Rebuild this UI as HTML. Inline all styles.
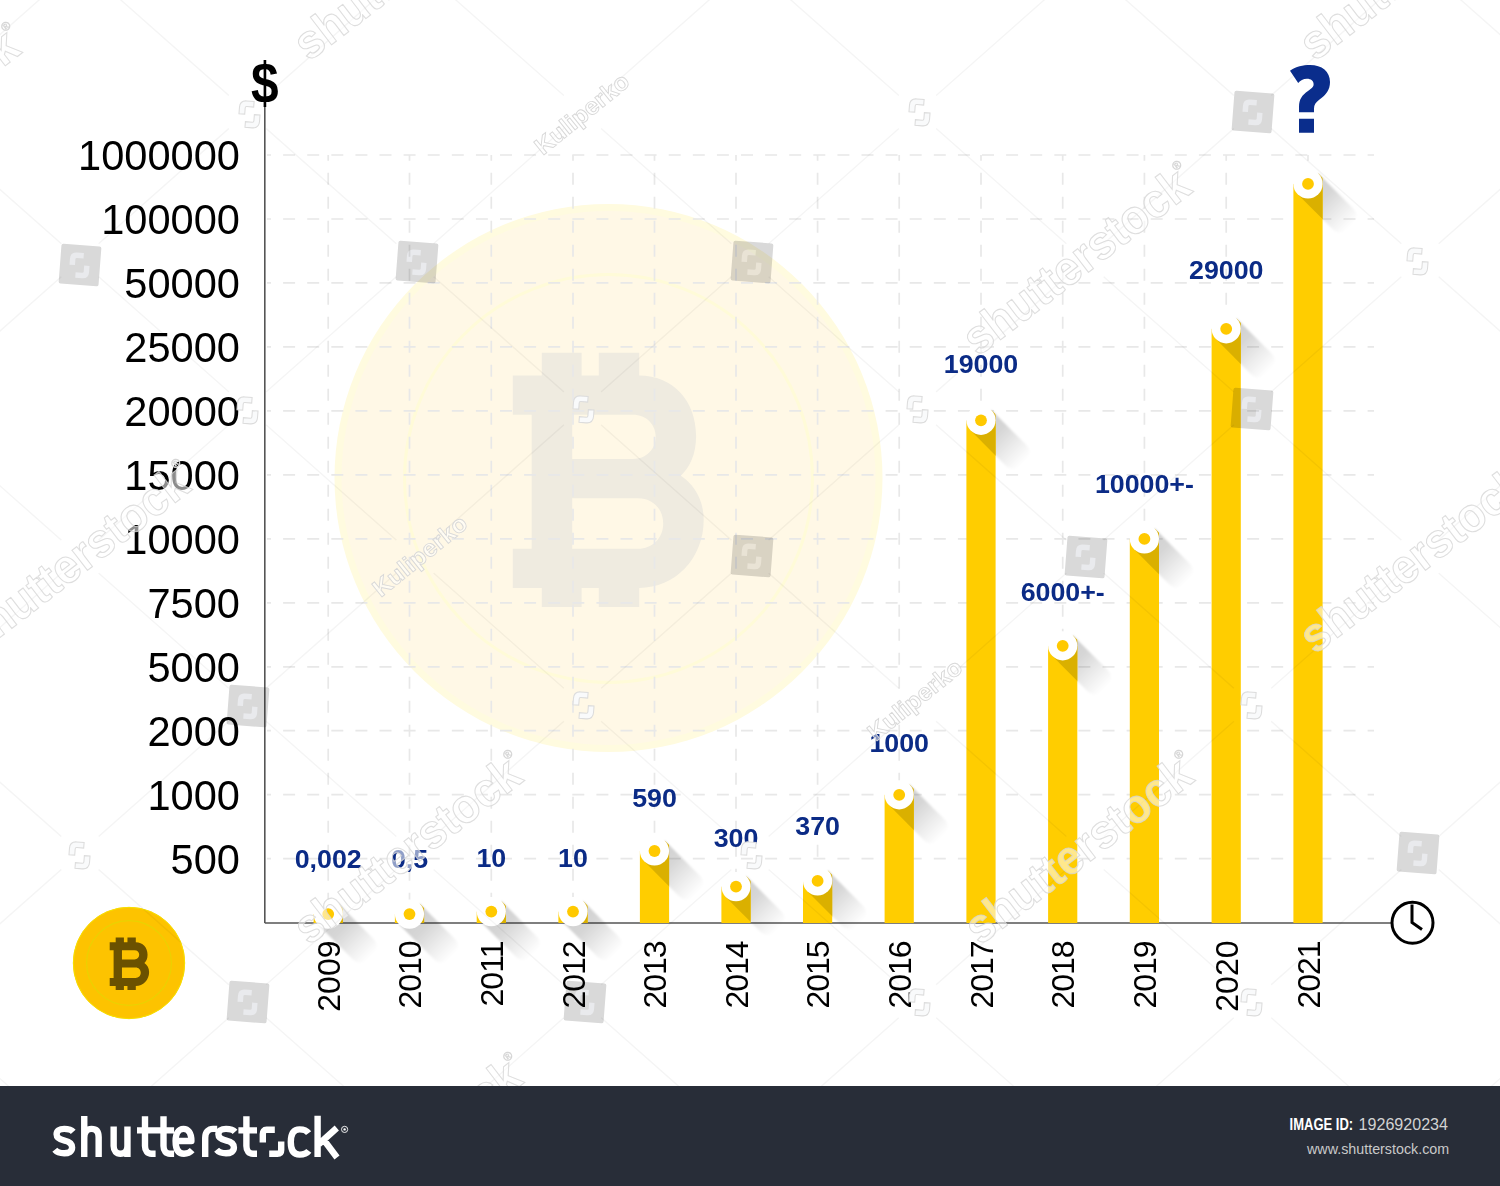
<!DOCTYPE html>
<html><head><meta charset="utf-8"><title>Bitcoin price chart</title>
<style>
html,body{margin:0;padding:0;background:#fff;}
body{width:1500px;height:1186px;overflow:hidden;position:relative;font-family:"Liberation Sans",sans-serif;}
svg{position:absolute;left:0;top:0;display:block;}
</style></head><body>
<svg width="1500" height="1186" viewBox="0 0 1500 1186">
<defs>
<filter id="blur1" x="-50%" y="-50%" width="200%" height="200%"><feGaussianBlur stdDeviation="1.3"/></filter>
<linearGradient id="shg" x1="0" y1="0" x2="1" y2="0">
<stop offset="0" stop-color="#000" stop-opacity="0.19"/>
<stop offset="0.35" stop-color="#000" stop-opacity="0.16"/>
<stop offset="0.7" stop-color="#000" stop-opacity="0.07"/>
<stop offset="1" stop-color="#000" stop-opacity="0"/>
</linearGradient>
<path id="bB" d="M0,22.7 H29 V0 H68.8 V22.7 H86 V0 H126.4 V22.7 C160,22.7 183.3,48 183.3,83 C183.3,102 177,114 168,123 C182,132 190.9,148 190.9,167 C190.9,206 162,235.2 126.4,235.2 V254.2 H86 V235.2 H68.8 V254.2 H29 V235.2 H0 V196 H18.9 V61.9 H0 Z M59.4,61.9 H120 C134,61.9 142.9,72 142.9,84 C142.9,96 134,106.2 120,106.2 H59.4 Z M59.4,145.4 H125 C140,145.4 150.4,156 150.4,170.7 C150.4,185 140,196 125,196 H59.4 Z" fill-rule="evenodd"/>
<path id="ico" d="M-10.5,0.5 V-5.7 Q-10.5,-12.2 -4,-12.2 H3 V-6.8 H-3.6 Q-5,-6.8 -5,-5.4 V0.5 Z M9.6,0.3 V6.5 Q9.6,13 3.1,13 H-3.8 V7.6 H2.8 Q4.2,7.6 4.2,6.2 V0.3 Z"/>
</defs>
<rect x="0" y="0" width="1500" height="1186" fill="#ffffff"/>

<circle cx="608.5" cy="478" r="274" fill="#fffbdf"/>
<circle cx="608.5" cy="478" r="267" fill="#fff8e6"/>
<circle cx="608.5" cy="478.5" r="204" fill="none" stroke="#fffbd8" stroke-width="3"/>
<use href="#bB" transform="translate(512.8,352.8)" fill="#efebe0"/>
<g stroke="#e8e8e8" stroke-width="1.7" stroke-dasharray="12 12.1" stroke-dashoffset="8"><line x1="267" y1="155.0" x2="1374" y2="155.0"/><line x1="267" y1="219.0" x2="1374" y2="219.0"/><line x1="267" y1="282.9" x2="1374" y2="282.9"/><line x1="267" y1="346.9" x2="1374" y2="346.9"/><line x1="267" y1="410.9" x2="1374" y2="410.9"/><line x1="267" y1="474.9" x2="1374" y2="474.9"/><line x1="267" y1="538.8" x2="1374" y2="538.8"/><line x1="267" y1="602.8" x2="1374" y2="602.8"/><line x1="267" y1="666.8" x2="1374" y2="666.8"/><line x1="267" y1="730.7" x2="1374" y2="730.7"/><line x1="267" y1="794.7" x2="1374" y2="794.7"/><line x1="267" y1="858.7" x2="1374" y2="858.7"/></g>
<g stroke="#e8e8e8" stroke-width="1.7" stroke-dasharray="12 12" stroke-dashoffset="6.3"><line x1="328.2" y1="155.0" x2="328.2" y2="923.0"/><line x1="409.5" y1="155.0" x2="409.5" y2="923.0"/><line x1="491.3" y1="155.0" x2="491.3" y2="923.0"/><line x1="573.0" y1="155.0" x2="573.0" y2="923.0"/><line x1="654.5" y1="155.0" x2="654.5" y2="923.0"/><line x1="736.0" y1="155.0" x2="736.0" y2="923.0"/><line x1="817.6" y1="155.0" x2="817.6" y2="923.0"/><line x1="899.2" y1="155.0" x2="899.2" y2="923.0"/><line x1="981.0" y1="155.0" x2="981.0" y2="923.0"/><line x1="1062.7" y1="155.0" x2="1062.7" y2="923.0"/><line x1="1144.4" y1="155.0" x2="1144.4" y2="923.0"/><line x1="1226.2" y1="155.0" x2="1226.2" y2="923.0"/><line x1="1308.0" y1="155.0" x2="1308.0" y2="923.0"/></g>
<line x1="264.8" y1="100" x2="264.8" y2="923.0" stroke="#555" stroke-width="1.6"/>
<line x1="264.8" y1="923.0" x2="1392" y2="923.0" stroke="#555" stroke-width="1.6"/>
<text transform="translate(264.8,103.3) scale(0.87,1)" font-family="Liberation Sans" font-weight="bold" font-size="57" text-anchor="middle" fill="#000">$</text>
<g fill="none" stroke="#000" stroke-width="3"><circle cx="1412.5" cy="922.7" r="20.5"/><polyline points="1412,904.5 1412,922.5 1422,929.5"/></g>
<text x="240" y="170.4" font-family="Liberation Sans" font-size="41.6" text-anchor="end" fill="#000">1000000</text>
<text x="240" y="234.4" font-family="Liberation Sans" font-size="41.6" text-anchor="end" fill="#000">100000</text>
<text x="240" y="298.3" font-family="Liberation Sans" font-size="41.6" text-anchor="end" fill="#000">50000</text>
<text x="240" y="362.3" font-family="Liberation Sans" font-size="41.6" text-anchor="end" fill="#000">25000</text>
<text x="240" y="426.3" font-family="Liberation Sans" font-size="41.6" text-anchor="end" fill="#000">20000</text>
<text x="240" y="490.2" font-family="Liberation Sans" font-size="41.6" text-anchor="end" fill="#000">15000</text>
<text x="240" y="554.2" font-family="Liberation Sans" font-size="41.6" text-anchor="end" fill="#000">10000</text>
<text x="240" y="618.2" font-family="Liberation Sans" font-size="41.6" text-anchor="end" fill="#000">7500</text>
<text x="240" y="682.2" font-family="Liberation Sans" font-size="41.6" text-anchor="end" fill="#000">5000</text>
<text x="240" y="746.1" font-family="Liberation Sans" font-size="41.6" text-anchor="end" fill="#000">2000</text>
<text x="240" y="810.1" font-family="Liberation Sans" font-size="41.6" text-anchor="end" fill="#000">1000</text>
<text x="240" y="874.1" font-family="Liberation Sans" font-size="41.6" text-anchor="end" fill="#000">500</text>
<clipPath id="cb0"><rect x="313.59999999999997" y="898.5" width="29.2" height="24.49999999999998"/></clipPath>
<g filter="url(#blur1)"><path d="M0,-14.6 H50 A10,10 0 0 1 60,-4.6 V4.6 A10,10 0 0 1 50,14.6 H0 Z" fill="url(#shg)" transform="translate(328.2,914.1) rotate(45)"/></g>
<rect x="313.59999999999997" y="914.1" width="29.2" height="8.9" fill="#ffcd00"/>
<g clip-path="url(#cb0)"><rect x="0" y="-14.6" width="120" height="29.2" fill="#dab000" transform="translate(328.2,914.1) rotate(45)"/></g>
<circle cx="328.2" cy="914.1" r="14.6" fill="#fff"/><circle cx="328.2" cy="914.1" r="5.9" fill="#ffc900"/>
<clipPath id="cb1"><rect x="394.9" y="898.5" width="29.2" height="24.49999999999998"/></clipPath>
<g filter="url(#blur1)"><path d="M0,-14.6 H50 A10,10 0 0 1 60,-4.6 V4.6 A10,10 0 0 1 50,14.6 H0 Z" fill="url(#shg)" transform="translate(409.5,914.1) rotate(45)"/></g>
<rect x="394.9" y="914.1" width="29.2" height="8.9" fill="#ffcd00"/>
<g clip-path="url(#cb1)"><rect x="0" y="-14.6" width="120" height="29.2" fill="#dab000" transform="translate(409.5,914.1) rotate(45)"/></g>
<circle cx="409.5" cy="914.1" r="14.6" fill="#fff"/><circle cx="409.5" cy="914.1" r="5.9" fill="#ffc900"/>
<clipPath id="cb2"><rect x="476.7" y="896.0" width="29.2" height="26.99999999999998"/></clipPath>
<g filter="url(#blur1)"><path d="M0,-14.6 H50 A10,10 0 0 1 60,-4.6 V4.6 A10,10 0 0 1 50,14.6 H0 Z" fill="url(#shg)" transform="translate(491.3,911.6) rotate(45)"/></g>
<rect x="476.7" y="911.6" width="29.2" height="11.4" fill="#ffcd00"/>
<g clip-path="url(#cb2)"><rect x="0" y="-14.6" width="120" height="29.2" fill="#dab000" transform="translate(491.3,911.6) rotate(45)"/></g>
<circle cx="491.3" cy="911.6" r="14.6" fill="#fff"/><circle cx="491.3" cy="911.6" r="5.9" fill="#ffc900"/>
<clipPath id="cb3"><rect x="558.4" y="896.0" width="29.2" height="26.99999999999998"/></clipPath>
<g filter="url(#blur1)"><path d="M0,-14.6 H50 A10,10 0 0 1 60,-4.6 V4.6 A10,10 0 0 1 50,14.6 H0 Z" fill="url(#shg)" transform="translate(573.0,911.6) rotate(45)"/></g>
<rect x="558.4" y="911.6" width="29.2" height="11.4" fill="#ffcd00"/>
<g clip-path="url(#cb3)"><rect x="0" y="-14.6" width="120" height="29.2" fill="#dab000" transform="translate(573.0,911.6) rotate(45)"/></g>
<circle cx="573.0" cy="911.6" r="14.6" fill="#fff"/><circle cx="573.0" cy="911.6" r="5.9" fill="#ffc900"/>
<clipPath id="cb4"><rect x="639.9" y="835.4" width="29.2" height="87.6"/></clipPath>
<g filter="url(#blur1)"><path d="M0,-14.6 H50 A10,10 0 0 1 60,-4.6 V4.6 A10,10 0 0 1 50,14.6 H0 Z" fill="url(#shg)" transform="translate(654.5,851.0) rotate(45)"/></g>
<rect x="639.9" y="851.0" width="29.2" height="72.0" fill="#ffcd00"/>
<g clip-path="url(#cb4)"><rect x="0" y="-14.6" width="120" height="29.2" fill="#dab000" transform="translate(654.5,851.0) rotate(45)"/></g>
<circle cx="654.5" cy="851.0" r="14.6" fill="#fff"/><circle cx="654.5" cy="851.0" r="5.9" fill="#ffc900"/>
<clipPath id="cb5"><rect x="721.4" y="871.0" width="29.2" height="51.99999999999998"/></clipPath>
<g filter="url(#blur1)"><path d="M0,-14.6 H50 A10,10 0 0 1 60,-4.6 V4.6 A10,10 0 0 1 50,14.6 H0 Z" fill="url(#shg)" transform="translate(736.0,886.6) rotate(45)"/></g>
<rect x="721.4" y="886.6" width="29.2" height="36.4" fill="#ffcd00"/>
<g clip-path="url(#cb5)"><rect x="0" y="-14.6" width="120" height="29.2" fill="#dab000" transform="translate(736.0,886.6) rotate(45)"/></g>
<circle cx="736.0" cy="886.6" r="14.6" fill="#fff"/><circle cx="736.0" cy="886.6" r="5.9" fill="#ffc900"/>
<clipPath id="cb6"><rect x="803.0" y="865.3" width="29.2" height="57.700000000000024"/></clipPath>
<g filter="url(#blur1)"><path d="M0,-14.6 H50 A10,10 0 0 1 60,-4.6 V4.6 A10,10 0 0 1 50,14.6 H0 Z" fill="url(#shg)" transform="translate(817.6,880.9) rotate(45)"/></g>
<rect x="803.0" y="880.9" width="29.2" height="42.1" fill="#ffcd00"/>
<g clip-path="url(#cb6)"><rect x="0" y="-14.6" width="120" height="29.2" fill="#dab000" transform="translate(817.6,880.9) rotate(45)"/></g>
<circle cx="817.6" cy="880.9" r="14.6" fill="#fff"/><circle cx="817.6" cy="880.9" r="5.9" fill="#ffc900"/>
<clipPath id="cb7"><rect x="884.6" y="779.1999999999999" width="29.2" height="143.80000000000004"/></clipPath>
<g filter="url(#blur1)"><path d="M0,-14.6 H50 A10,10 0 0 1 60,-4.6 V4.6 A10,10 0 0 1 50,14.6 H0 Z" fill="url(#shg)" transform="translate(899.2,794.8) rotate(45)"/></g>
<rect x="884.6" y="794.8" width="29.2" height="128.2" fill="#ffcd00"/>
<g clip-path="url(#cb7)"><rect x="0" y="-14.6" width="120" height="29.2" fill="#dab000" transform="translate(899.2,794.8) rotate(45)"/></g>
<circle cx="899.2" cy="794.8" r="14.6" fill="#fff"/><circle cx="899.2" cy="794.8" r="5.9" fill="#ffc900"/>
<clipPath id="cb8"><rect x="966.4" y="404.7" width="29.2" height="518.3"/></clipPath>
<g filter="url(#blur1)"><path d="M0,-14.6 H50 A10,10 0 0 1 60,-4.6 V4.6 A10,10 0 0 1 50,14.6 H0 Z" fill="url(#shg)" transform="translate(981.0,420.3) rotate(45)"/></g>
<rect x="966.4" y="420.3" width="29.2" height="502.7" fill="#ffcd00"/>
<g clip-path="url(#cb8)"><rect x="0" y="-14.6" width="120" height="29.2" fill="#dab000" transform="translate(981.0,420.3) rotate(45)"/></g>
<circle cx="981.0" cy="420.3" r="14.6" fill="#fff"/><circle cx="981.0" cy="420.3" r="5.9" fill="#ffc900"/>
<clipPath id="cb9"><rect x="1048.1000000000001" y="630.1999999999999" width="29.2" height="292.80000000000007"/></clipPath>
<g filter="url(#blur1)"><path d="M0,-14.6 H50 A10,10 0 0 1 60,-4.6 V4.6 A10,10 0 0 1 50,14.6 H0 Z" fill="url(#shg)" transform="translate(1062.7,645.8) rotate(45)"/></g>
<rect x="1048.1000000000001" y="645.8" width="29.2" height="277.2" fill="#ffcd00"/>
<g clip-path="url(#cb9)"><rect x="0" y="-14.6" width="120" height="29.2" fill="#dab000" transform="translate(1062.7,645.8) rotate(45)"/></g>
<circle cx="1062.7" cy="645.8" r="14.6" fill="#fff"/><circle cx="1062.7" cy="645.8" r="5.9" fill="#ffc900"/>
<clipPath id="cb10"><rect x="1129.8000000000002" y="523.3" width="29.2" height="399.70000000000005"/></clipPath>
<g filter="url(#blur1)"><path d="M0,-14.6 H50 A10,10 0 0 1 60,-4.6 V4.6 A10,10 0 0 1 50,14.6 H0 Z" fill="url(#shg)" transform="translate(1144.4,538.9) rotate(45)"/></g>
<rect x="1129.8000000000002" y="538.9" width="29.2" height="384.1" fill="#ffcd00"/>
<g clip-path="url(#cb10)"><rect x="0" y="-14.6" width="120" height="29.2" fill="#dab000" transform="translate(1144.4,538.9) rotate(45)"/></g>
<circle cx="1144.4" cy="538.9" r="14.6" fill="#fff"/><circle cx="1144.4" cy="538.9" r="5.9" fill="#ffc900"/>
<clipPath id="cb11"><rect x="1211.6000000000001" y="313.2" width="29.2" height="609.8000000000001"/></clipPath>
<g filter="url(#blur1)"><path d="M0,-14.6 H50 A10,10 0 0 1 60,-4.6 V4.6 A10,10 0 0 1 50,14.6 H0 Z" fill="url(#shg)" transform="translate(1226.2,328.8) rotate(45)"/></g>
<rect x="1211.6000000000001" y="328.8" width="29.2" height="594.2" fill="#ffcd00"/>
<g clip-path="url(#cb11)"><rect x="0" y="-14.6" width="120" height="29.2" fill="#dab000" transform="translate(1226.2,328.8) rotate(45)"/></g>
<circle cx="1226.2" cy="328.8" r="14.6" fill="#fff"/><circle cx="1226.2" cy="328.8" r="5.9" fill="#ffc900"/>
<clipPath id="cb12"><rect x="1293.4" y="168.3" width="29.2" height="754.7"/></clipPath>
<g filter="url(#blur1)"><path d="M0,-14.6 H50 A10,10 0 0 1 60,-4.6 V4.6 A10,10 0 0 1 50,14.6 H0 Z" fill="url(#shg)" transform="translate(1308.0,183.9) rotate(45)"/></g>
<rect x="1293.4" y="183.9" width="29.2" height="739.1" fill="#ffcd00"/>
<g clip-path="url(#cb12)"><rect x="0" y="-14.6" width="120" height="29.2" fill="#dab000" transform="translate(1308.0,183.9) rotate(45)"/></g>
<circle cx="1308.0" cy="183.9" r="14.6" fill="#fff"/><circle cx="1308.0" cy="183.9" r="5.9" fill="#ffc900"/>
<text transform="translate(328.2,868.3) scale(1.05,1)" font-family="Liberation Sans" font-weight="bold" font-size="25.5" text-anchor="middle" fill="#0b2b86">0,002</text>
<text transform="translate(409.5,868.3) scale(1.05,1)" font-family="Liberation Sans" font-weight="bold" font-size="25.5" text-anchor="middle" fill="#0b2b86">0,5</text>
<text transform="translate(491.3,866.8) scale(1.05,1)" font-family="Liberation Sans" font-weight="bold" font-size="25.5" text-anchor="middle" fill="#0b2b86">10</text>
<text transform="translate(573.0,866.8) scale(1.05,1)" font-family="Liberation Sans" font-weight="bold" font-size="25.5" text-anchor="middle" fill="#0b2b86">10</text>
<text transform="translate(654.5,806.8) scale(1.05,1)" font-family="Liberation Sans" font-weight="bold" font-size="25.5" text-anchor="middle" fill="#0b2b86">590</text>
<text transform="translate(736.0,847.4) scale(1.05,1)" font-family="Liberation Sans" font-weight="bold" font-size="25.5" text-anchor="middle" fill="#0b2b86">300</text>
<text transform="translate(817.6,834.9) scale(1.05,1)" font-family="Liberation Sans" font-weight="bold" font-size="25.5" text-anchor="middle" fill="#0b2b86">370</text>
<text transform="translate(899.2,752.4) scale(1.05,1)" font-family="Liberation Sans" font-weight="bold" font-size="25.5" text-anchor="middle" fill="#0b2b86">1000</text>
<text transform="translate(981.0,373.4) scale(1.05,1)" font-family="Liberation Sans" font-weight="bold" font-size="25.5" text-anchor="middle" fill="#0b2b86">19000</text>
<text transform="translate(1062.7,600.5) scale(1.05,1)" font-family="Liberation Sans" font-weight="bold" font-size="25.5" text-anchor="middle" fill="#0b2b86">6000+-</text>
<text transform="translate(1144.4,493.4) scale(1.05,1)" font-family="Liberation Sans" font-weight="bold" font-size="25.5" text-anchor="middle" fill="#0b2b86">10000+-</text>
<text transform="translate(1226.2,278.8) scale(1.05,1)" font-family="Liberation Sans" font-weight="bold" font-size="25.5" text-anchor="middle" fill="#0b2b86">29000</text>
<path d="M1290,70.8 C1296,66.6 1303,65 1310,65 C1322,65 1330,71.5 1330,82 C1330,90 1326,95 1319.5,99.5 C1315.5,102.5 1314,105 1314,108.5 V112.2 H1299 V106.5 C1299,99.5 1302,95 1308,91 C1312,88.2 1313.6,86.8 1313.6,84.3 C1313.6,81 1311,78.8 1307,78.8 C1303,78.8 1300.5,80.5 1298.2,83 Z M1299,118.8 H1314 V132.8 H1299 Z" fill="#0a2d8c"/>
<text transform="translate(339.7,940.5) rotate(-90)" font-family="Liberation Sans" font-size="32" text-anchor="end" fill="#000" textLength="71.19" lengthAdjust="spacing">2009</text>
<text transform="translate(421.0,940.5) rotate(-90)" font-family="Liberation Sans" font-size="32" text-anchor="end" fill="#000" textLength="67.89" lengthAdjust="spacing">2010</text>
<text transform="translate(502.8,940.5) rotate(-90)" font-family="Liberation Sans" font-size="32" text-anchor="end" fill="#000" textLength="65.99" lengthAdjust="spacing">2011</text>
<text transform="translate(584.5,940.5) rotate(-90)" font-family="Liberation Sans" font-size="32" text-anchor="end" fill="#000" textLength="67.89" lengthAdjust="spacing">2012</text>
<text transform="translate(666.0,940.5) rotate(-90)" font-family="Liberation Sans" font-size="32" text-anchor="end" fill="#000" textLength="67.89" lengthAdjust="spacing">2013</text>
<text transform="translate(747.5,940.5) rotate(-90)" font-family="Liberation Sans" font-size="32" text-anchor="end" fill="#000" textLength="67.89" lengthAdjust="spacing">2014</text>
<text transform="translate(829.1,940.5) rotate(-90)" font-family="Liberation Sans" font-size="32" text-anchor="end" fill="#000" textLength="67.89" lengthAdjust="spacing">2015</text>
<text transform="translate(910.7,940.5) rotate(-90)" font-family="Liberation Sans" font-size="32" text-anchor="end" fill="#000" textLength="67.89" lengthAdjust="spacing">2016</text>
<text transform="translate(992.5,940.5) rotate(-90)" font-family="Liberation Sans" font-size="32" text-anchor="end" fill="#000" textLength="67.89" lengthAdjust="spacing">2017</text>
<text transform="translate(1074.2,940.5) rotate(-90)" font-family="Liberation Sans" font-size="32" text-anchor="end" fill="#000" textLength="67.89" lengthAdjust="spacing">2018</text>
<text transform="translate(1155.9,940.5) rotate(-90)" font-family="Liberation Sans" font-size="32" text-anchor="end" fill="#000" textLength="67.89" lengthAdjust="spacing">2019</text>
<text transform="translate(1237.7,940.5) rotate(-90)" font-family="Liberation Sans" font-size="32" text-anchor="end" fill="#000" textLength="71.19" lengthAdjust="spacing">2020</text>
<text transform="translate(1319.5,940.5) rotate(-90)" font-family="Liberation Sans" font-size="32" text-anchor="end" fill="#000" textLength="67.89" lengthAdjust="spacing">2021</text>
<circle cx="129" cy="963" r="56" fill="#fdc300"/>
<circle cx="129" cy="963" r="55.7" fill="none" stroke="#f7e000" stroke-width="1"/>
<circle cx="129" cy="963" r="42.4" fill="none" stroke="#ead200" stroke-width="1.1"/>
<use href="#bB" transform="translate(109.7,937.5) scale(0.2065)" fill="#6b5100"/>
<mask id="latm" maskUnits="userSpaceOnUse" x="0" y="0" width="1500" height="1186"><rect x="0" y="0" width="1500" height="1186" fill="#fff"/><circle cx="-255.0" cy="-36.2" r="25" fill="#000"/><circle cx="-255.0" cy="260.2" r="25" fill="#000"/><circle cx="-255.0" cy="556.6" r="25" fill="#000"/><circle cx="-255.0" cy="853.0" r="25" fill="#000"/><circle cx="-255.0" cy="1149.4" r="25" fill="#000"/><circle cx="-87.5" cy="-184.4" r="25" fill="#000"/><circle cx="-87.5" cy="112.0" r="25" fill="#000"/><circle cx="-87.5" cy="408.4" r="25" fill="#000"/><circle cx="-87.5" cy="704.8" r="25" fill="#000"/><circle cx="-87.5" cy="1001.2" r="25" fill="#000"/><circle cx="-87.5" cy="1297.6" r="25" fill="#000"/><circle cx="80.0" cy="-36.2" r="25" fill="#000"/><circle cx="80.0" cy="260.2" r="25" fill="#000"/><circle cx="80.0" cy="556.6" r="25" fill="#000"/><circle cx="80.0" cy="853.0" r="25" fill="#000"/><circle cx="80.0" cy="1149.4" r="25" fill="#000"/><circle cx="247.5" cy="-184.4" r="25" fill="#000"/><circle cx="247.5" cy="112.0" r="25" fill="#000"/><circle cx="247.5" cy="408.4" r="25" fill="#000"/><circle cx="247.5" cy="704.8" r="25" fill="#000"/><circle cx="247.5" cy="1001.2" r="25" fill="#000"/><circle cx="247.5" cy="1297.6" r="25" fill="#000"/><circle cx="415.0" cy="-36.2" r="25" fill="#000"/><circle cx="415.0" cy="260.2" r="25" fill="#000"/><circle cx="415.0" cy="556.6" r="25" fill="#000"/><circle cx="415.0" cy="853.0" r="25" fill="#000"/><circle cx="415.0" cy="1149.4" r="25" fill="#000"/><circle cx="582.5" cy="-184.4" r="25" fill="#000"/><circle cx="582.5" cy="112.0" r="25" fill="#000"/><circle cx="582.5" cy="408.4" r="25" fill="#000"/><circle cx="582.5" cy="704.8" r="25" fill="#000"/><circle cx="582.5" cy="1001.2" r="25" fill="#000"/><circle cx="582.5" cy="1297.6" r="25" fill="#000"/><circle cx="750.0" cy="-36.2" r="25" fill="#000"/><circle cx="750.0" cy="260.2" r="25" fill="#000"/><circle cx="750.0" cy="556.6" r="25" fill="#000"/><circle cx="750.0" cy="853.0" r="25" fill="#000"/><circle cx="750.0" cy="1149.4" r="25" fill="#000"/><circle cx="917.5" cy="-184.4" r="25" fill="#000"/><circle cx="917.5" cy="112.0" r="25" fill="#000"/><circle cx="917.5" cy="408.4" r="25" fill="#000"/><circle cx="917.5" cy="704.8" r="25" fill="#000"/><circle cx="917.5" cy="1001.2" r="25" fill="#000"/><circle cx="917.5" cy="1297.6" r="25" fill="#000"/><circle cx="1085.0" cy="-36.2" r="25" fill="#000"/><circle cx="1085.0" cy="260.2" r="25" fill="#000"/><circle cx="1085.0" cy="556.6" r="25" fill="#000"/><circle cx="1085.0" cy="853.0" r="25" fill="#000"/><circle cx="1085.0" cy="1149.4" r="25" fill="#000"/><circle cx="1252.5" cy="-184.4" r="25" fill="#000"/><circle cx="1252.5" cy="112.0" r="25" fill="#000"/><circle cx="1252.5" cy="408.4" r="25" fill="#000"/><circle cx="1252.5" cy="704.8" r="25" fill="#000"/><circle cx="1252.5" cy="1001.2" r="25" fill="#000"/><circle cx="1252.5" cy="1297.6" r="25" fill="#000"/><circle cx="1420.0" cy="-36.2" r="25" fill="#000"/><circle cx="1420.0" cy="260.2" r="25" fill="#000"/><circle cx="1420.0" cy="556.6" r="25" fill="#000"/><circle cx="1420.0" cy="853.0" r="25" fill="#000"/><circle cx="1420.0" cy="1149.4" r="25" fill="#000"/><circle cx="1587.5" cy="-184.4" r="25" fill="#000"/><circle cx="1587.5" cy="112.0" r="25" fill="#000"/><circle cx="1587.5" cy="408.4" r="25" fill="#000"/><circle cx="1587.5" cy="704.8" r="25" fill="#000"/><circle cx="1587.5" cy="1001.2" r="25" fill="#000"/><circle cx="1587.5" cy="1297.6" r="25" fill="#000"/><circle cx="1755.0" cy="-36.2" r="25" fill="#000"/><circle cx="1755.0" cy="260.2" r="25" fill="#000"/><circle cx="1755.0" cy="556.6" r="25" fill="#000"/><circle cx="1755.0" cy="853.0" r="25" fill="#000"/><circle cx="1755.0" cy="1149.4" r="25" fill="#000"/></mask>
<g mask="url(#latm)" stroke="#000" stroke-opacity="0.045" stroke-width="1.4"><line x1="-10" y1="2255.4" x2="1510" y2="3600.2"/><line x1="-10" y1="-2031.4" x2="1510" y2="-3376.2"/><line x1="-10" y1="1959.0" x2="1510" y2="3303.8"/><line x1="-10" y1="-1735.0" x2="1510" y2="-3079.8"/><line x1="-10" y1="1662.6" x2="1510" y2="3007.4"/><line x1="-10" y1="-1438.6" x2="1510" y2="-2783.4"/><line x1="-10" y1="1366.2" x2="1510" y2="2711.0"/><line x1="-10" y1="-1142.2" x2="1510" y2="-2487.0"/><line x1="-10" y1="1069.8" x2="1510" y2="2414.6"/><line x1="-10" y1="-845.8" x2="1510" y2="-2190.6"/><line x1="-10" y1="773.4" x2="1510" y2="2118.2"/><line x1="-10" y1="-549.4" x2="1510" y2="-1894.2"/><line x1="-10" y1="477.0" x2="1510" y2="1821.8"/><line x1="-10" y1="-253.0" x2="1510" y2="-1597.8"/><line x1="-10" y1="180.6" x2="1510" y2="1525.4"/><line x1="-10" y1="43.4" x2="1510" y2="-1301.4"/><line x1="-10" y1="-115.8" x2="1510" y2="1229.0"/><line x1="-10" y1="339.8" x2="1510" y2="-1005.0"/><line x1="-10" y1="-412.2" x2="1510" y2="932.6"/><line x1="-10" y1="636.2" x2="1510" y2="-708.6"/><line x1="-10" y1="-708.6" x2="1510" y2="636.2"/><line x1="-10" y1="932.6" x2="1510" y2="-412.2"/><line x1="-10" y1="-1005.0" x2="1510" y2="339.8"/><line x1="-10" y1="1229.0" x2="1510" y2="-115.8"/><line x1="-10" y1="-1301.4" x2="1510" y2="43.4"/><line x1="-10" y1="1525.4" x2="1510" y2="180.6"/><line x1="-10" y1="-1597.8" x2="1510" y2="-253.0"/><line x1="-10" y1="1821.8" x2="1510" y2="477.0"/><line x1="-10" y1="-1894.2" x2="1510" y2="-549.4"/><line x1="-10" y1="2118.2" x2="1510" y2="773.4"/><line x1="-10" y1="-2190.6" x2="1510" y2="-845.8"/><line x1="-10" y1="2414.6" x2="1510" y2="1069.8"/></g>
<g transform="translate(80,265) rotate(4.4)" style="mix-blend-mode:multiply"><rect x="-20" y="-20" width="40" height="40" rx="2" fill="#d9d9d9"/><use href="#ico" fill="#e9eaed"/></g>
<g transform="translate(417,262) rotate(4.4)" style="mix-blend-mode:multiply"><rect x="-20" y="-20" width="40" height="40" rx="2" fill="#d9d9d9"/><use href="#ico" fill="#e9eaed"/></g>
<g transform="translate(752,262) rotate(4.4)" style="mix-blend-mode:multiply"><rect x="-20" y="-20" width="40" height="40" rx="2" fill="#d9d9d9"/><use href="#ico" fill="#e9eaed"/></g>
<g transform="translate(752,556) rotate(4.4)" style="mix-blend-mode:multiply"><rect x="-20" y="-20" width="40" height="40" rx="2" fill="#d9d9d9"/><use href="#ico" fill="#e9eaed"/></g>
<g transform="translate(1086,557) rotate(4.4)" style="mix-blend-mode:multiply"><rect x="-20" y="-20" width="40" height="40" rx="2" fill="#d9d9d9"/><use href="#ico" fill="#e9eaed"/></g>
<g transform="translate(1253,112) rotate(4.4)" style="mix-blend-mode:multiply"><rect x="-20" y="-20" width="40" height="40" rx="2" fill="#d9d9d9"/><use href="#ico" fill="#e9eaed"/></g>
<g transform="translate(1252,409) rotate(4.4)" style="mix-blend-mode:multiply"><rect x="-20" y="-20" width="40" height="40" rx="2" fill="#d9d9d9"/><use href="#ico" fill="#e9eaed"/></g>
<g transform="translate(248,706) rotate(4.4)" style="mix-blend-mode:multiply"><rect x="-20" y="-20" width="40" height="40" rx="2" fill="#d9d9d9"/><use href="#ico" fill="#e9eaed"/></g>
<g transform="translate(1418,853) rotate(4.4)" style="mix-blend-mode:multiply"><rect x="-20" y="-20" width="40" height="40" rx="2" fill="#d9d9d9"/><use href="#ico" fill="#e9eaed"/></g>
<g transform="translate(248,1002) rotate(4.4)" style="mix-blend-mode:multiply"><rect x="-20" y="-20" width="40" height="40" rx="2" fill="#d9d9d9"/><use href="#ico" fill="#e9eaed"/></g>
<g transform="translate(585,1002) rotate(4.4)" style="mix-blend-mode:multiply"><rect x="-20" y="-20" width="40" height="40" rx="2" fill="#d9d9d9"/><use href="#ico" fill="#e9eaed"/></g>
<g transform="translate(250,114) rotate(4.4) scale(1.05)"><use href="#ico" fill="#f9fafb" stroke="#dcdcdc" stroke-width="1"/></g>
<g transform="translate(248,410) rotate(4.4) scale(1.05)"><use href="#ico" fill="#f9fafb" stroke="#dcdcdc" stroke-width="1"/></g>
<g transform="translate(584,409) rotate(4.4) scale(1.05)"><use href="#ico" fill="#f9fafb" stroke="#dcdcdc" stroke-width="1"/></g>
<g transform="translate(920,112) rotate(4.4) scale(1.05)"><use href="#ico" fill="#f9fafb" stroke="#dcdcdc" stroke-width="1"/></g>
<g transform="translate(918,409) rotate(4.4) scale(1.05)"><use href="#ico" fill="#f9fafb" stroke="#dcdcdc" stroke-width="1"/></g>
<g transform="translate(1418,261) rotate(4.4) scale(1.05)"><use href="#ico" fill="#f9fafb" stroke="#dcdcdc" stroke-width="1"/></g>
<g transform="translate(80,855) rotate(4.4) scale(1.05)"><use href="#ico" fill="#f9fafb" stroke="#dcdcdc" stroke-width="1"/></g>
<g transform="translate(584,705) rotate(4.4) scale(1.05)"><use href="#ico" fill="#f9fafb" stroke="#dcdcdc" stroke-width="1"/></g>
<g transform="translate(1252,705) rotate(4.4) scale(1.05)"><use href="#ico" fill="#f9fafb" stroke="#dcdcdc" stroke-width="1"/></g>
<g transform="translate(920,1002) rotate(4.4) scale(1.05)"><use href="#ico" fill="#f9fafb" stroke="#dcdcdc" stroke-width="1"/></g>
<g transform="translate(1252,1002) rotate(4.4) scale(1.05)"><use href="#ico" fill="#f9fafb" stroke="#dcdcdc" stroke-width="1"/></g>
<g transform="translate(752,855) rotate(4.4) scale(1.05)"><use href="#ico" fill="#f9fafb" stroke="#dcdcdc" stroke-width="1"/></g>
<g transform="translate(-93,125) rotate(-37.5)"><text x="0" y="13" font-family="Liberation Sans" font-weight="bold" font-size="48" text-anchor="middle" textLength="272" lengthAdjust="spacingAndGlyphs" fill="#ffffff" fill-opacity="0.55" stroke="#d6d6d6" stroke-width="1.1" stroke-opacity="0.8">shutterstock</text><text x="134" y="-14" font-family="Liberation Sans" font-size="12" fill="#fff" stroke="#d6d6d6" stroke-width="0.6">®</text></g>
<g transform="translate(409,-31) rotate(-37.5)"><text x="0" y="13" font-family="Liberation Sans" font-weight="bold" font-size="48" text-anchor="middle" textLength="272" lengthAdjust="spacingAndGlyphs" fill="#ffffff" fill-opacity="0.55" stroke="#d6d6d6" stroke-width="1.1" stroke-opacity="0.8">shutterstock</text><text x="134" y="-14" font-family="Liberation Sans" font-size="12" fill="#fff" stroke="#d6d6d6" stroke-width="0.6">®</text></g>
<g transform="translate(1415,-31) rotate(-37.5)"><text x="0" y="13" font-family="Liberation Sans" font-weight="bold" font-size="48" text-anchor="middle" textLength="272" lengthAdjust="spacingAndGlyphs" fill="#ffffff" fill-opacity="0.55" stroke="#d6d6d6" stroke-width="1.1" stroke-opacity="0.8">shutterstock</text><text x="134" y="-14" font-family="Liberation Sans" font-size="12" fill="#fff" stroke="#d6d6d6" stroke-width="0.6">®</text></g>
<g transform="translate(1078,264) rotate(-37.5)"><text x="0" y="13" font-family="Liberation Sans" font-weight="bold" font-size="48" text-anchor="middle" textLength="272" lengthAdjust="spacingAndGlyphs" fill="#ffffff" fill-opacity="0.55" stroke="#d6d6d6" stroke-width="1.1" stroke-opacity="0.8">shutterstock</text><text x="134" y="-14" font-family="Liberation Sans" font-size="12" fill="#fff" stroke="#d6d6d6" stroke-width="0.6">®</text></g>
<g transform="translate(77,562) rotate(-37.5)"><text x="0" y="13" font-family="Liberation Sans" font-weight="bold" font-size="48" text-anchor="middle" textLength="272" lengthAdjust="spacingAndGlyphs" fill="#ffffff" fill-opacity="0.55" stroke="#d6d6d6" stroke-width="1.1" stroke-opacity="0.8">shutterstock</text><text x="134" y="-14" font-family="Liberation Sans" font-size="12" fill="#fff" stroke="#d6d6d6" stroke-width="0.6">®</text></g>
<g transform="translate(1415,562) rotate(-37.5)"><text x="0" y="13" font-family="Liberation Sans" font-weight="bold" font-size="48" text-anchor="middle" textLength="272" lengthAdjust="spacingAndGlyphs" fill="#ffffff" fill-opacity="0.55" stroke="#d6d6d6" stroke-width="1.1" stroke-opacity="0.8">shutterstock</text><text x="134" y="-14" font-family="Liberation Sans" font-size="12" fill="#fff" stroke="#d6d6d6" stroke-width="0.6">®</text></g>
<g transform="translate(409,853) rotate(-37.5)"><text x="0" y="13" font-family="Liberation Sans" font-weight="bold" font-size="48" text-anchor="middle" textLength="272" lengthAdjust="spacingAndGlyphs" fill="#ffffff" fill-opacity="0.55" stroke="#d6d6d6" stroke-width="1.1" stroke-opacity="0.8">shutterstock</text><text x="134" y="-14" font-family="Liberation Sans" font-size="12" fill="#fff" stroke="#d6d6d6" stroke-width="0.6">®</text></g>
<g transform="translate(1080,853) rotate(-37.5)"><text x="0" y="13" font-family="Liberation Sans" font-weight="bold" font-size="48" text-anchor="middle" textLength="272" lengthAdjust="spacingAndGlyphs" fill="#ffffff" fill-opacity="0.55" stroke="#d6d6d6" stroke-width="1.1" stroke-opacity="0.8">shutterstock</text><text x="134" y="-14" font-family="Liberation Sans" font-size="12" fill="#fff" stroke="#d6d6d6" stroke-width="0.6">®</text></g>
<g transform="translate(409,1155) rotate(-37.5)"><text x="0" y="13" font-family="Liberation Sans" font-weight="bold" font-size="48" text-anchor="middle" textLength="272" lengthAdjust="spacingAndGlyphs" fill="#ffffff" fill-opacity="0.55" stroke="#d6d6d6" stroke-width="1.1" stroke-opacity="0.8">shutterstock</text><text x="134" y="-14" font-family="Liberation Sans" font-size="12" fill="#fff" stroke="#d6d6d6" stroke-width="0.6">®</text></g>
<g transform="translate(582,114) rotate(-39)"><text x="0" y="8" font-family="Liberation Sans" font-weight="bold" font-size="24" text-anchor="middle" textLength="114" lengthAdjust="spacingAndGlyphs" fill="#ffffff" fill-opacity="0.5" stroke="#d8d8d8" stroke-width="0.9">Kuliperko</text></g>
<g transform="translate(420,556) rotate(-39)"><text x="0" y="8" font-family="Liberation Sans" font-weight="bold" font-size="24" text-anchor="middle" textLength="114" lengthAdjust="spacingAndGlyphs" fill="#ffffff" fill-opacity="0.5" stroke="#d8d8d8" stroke-width="0.9">Kuliperko</text></g>
<g transform="translate(915,700) rotate(-39)"><text x="0" y="8" font-family="Liberation Sans" font-weight="bold" font-size="24" text-anchor="middle" textLength="114" lengthAdjust="spacingAndGlyphs" fill="#ffffff" fill-opacity="0.5" stroke="#d8d8d8" stroke-width="0.9">Kuliperko</text></g>
<rect x="0" y="1086" width="1500" height="100" fill="#282d38"/>
<path d="M73.2,1131.8 C71.3,1129.6 68.0,1128.85 64.2,1128.85 C59.3,1128.85 56.6,1131 56.6,1134.3 C56.6,1138.3 59.8,1139.6 64.6,1140.6 C69.5,1141.6 72.1,1143.6 72.1,1147.6 C72.1,1151.6 68.6,1153.3 64.2,1153.3 C59.5,1153.3 56.8,1152.2 54.8,1149.8 M84.25,1116 V1157 M84.25,1138 C84.25,1132 87.5,1128.85 91.5,1128.85 C96,1128.85 98.65,1131.5 98.65,1137 V1157 M113.65,1126.5 V1146 C113.65,1151 116.5,1153.75 120.5,1153.75 C124.5,1153.75 127.45,1151 127.45,1146 M127.45,1126.5 V1157 M145.00,1116.2 V1146 C145.00,1151 147.50,1153.8 151.50,1153.8 H155.60 M137.00,1130.4 H155.60 M163.50,1116.2 V1146 C163.50,1151 166.00,1153.8 170.00,1153.8 H174.10 M155.50,1130.4 H174.10 M175.6,1141 H191.4 C191.4,1133 188,1128.85 183.5,1128.85 C178.5,1128.85 175.6,1133.5 175.6,1141 C175.6,1149.5 178.5,1153.75 184,1153.75 C187.5,1153.75 190,1152.6 192.2,1150.2 M205.2,1157 V1138 C205.2,1132 208.5,1128.85 213,1128.85 H217.2 M235.0,1131.8 C233.1,1129.6 229.8,1128.85 226.0,1128.85 C221.1,1128.85 218.4,1131 218.4,1134.3 C218.4,1138.3 221.6,1139.6 226.4,1140.6 C231.3,1141.6 233.9,1143.6 233.9,1147.6 C233.9,1151.6 230.4,1153.3 226.0,1153.3 C221.3,1153.3 218.6,1152.2 216.6,1149.8 M246.40,1116.2 V1146 C246.40,1151 248.90,1153.8 252.90,1153.8 H257.00 M238.40,1130.4 H257.00 M262.8,1142.6 V1134 C262.8,1131.5 264,1129.8 266.5,1129.8 H274.8 M281.2,1141.4 V1150 C281.2,1152.5 279.9,1153.8 277.4,1153.8 H269.2 M308.6,1133.2 C306.6,1130.4 303.6,1129.4 299.6,1129.4 C293.6,1129.4 290.8,1134 290.8,1142 C290.8,1150 293.6,1154.6 299.6,1154.6 C303.6,1154.6 306.6,1153.8 308.8,1150.8 M317.6,1115.8 V1157 M319,1144 L336.8,1128 M323.5,1139.5 L337,1157.5" fill="none" stroke="#fff" stroke-width="6.4" stroke-linejoin="round"/>
<circle cx="344.6" cy="1129.4" r="3.1" fill="none" stroke="#fff" stroke-width="0.9"/><circle cx="344.6" cy="1129.4" r="1.2" fill="#fff"/>
<text x="1289.6" y="1130.2" font-family="Liberation Sans" font-weight="bold" font-size="17.4" fill="#fff" textLength="63.6" lengthAdjust="spacingAndGlyphs">IMAGE ID:</text>
<text x="1358.6" y="1130.2" font-family="Liberation Sans" font-size="17.4" fill="#d2d2d2" textLength="89.4" lengthAdjust="spacingAndGlyphs">1926920234</text>
<text x="1307" y="1154.2" font-family="Liberation Sans" font-size="15.1" fill="#c9c9c9" textLength="142.2" lengthAdjust="spacingAndGlyphs">www.shutterstock.com</text>
</svg></body></html>
